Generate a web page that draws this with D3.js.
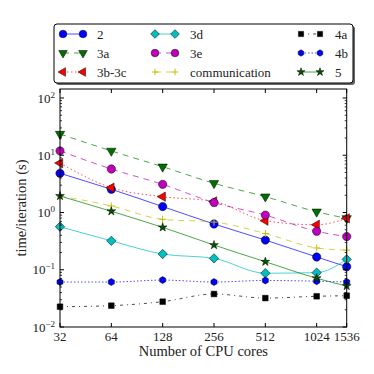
<!DOCTYPE html>
<html><head><meta charset="utf-8">
<script src="https://cdn.jsdelivr.net/npm/d3@7"></script>
<style>body{margin:0;background:#fff}svg{display:block}svg text{font-family:'Liberation Serif','DejaVu Serif','Liberation Sans',sans-serif}</style>
</head><body><svg id="c" width="374" height="374"></svg>
<script>
const cores = [32, 64, 128, 256, 512, 1024, 1536];
const xTickLabels = ["32", "64", "128", "256", "512", "1024", "1536"];
const yTickExps = [-2, -1, 0, 1, 2];
const s2 = [4.84, 2.54, 1.27, 0.63, 0.33, 0.167, 0.113];
const s3a = [23.5, 11.9, 6.3, 3.24, 1.89, 1.03, 0.79];
const s3bc = [7.3, 2.71, 1.89, 1.56, 0.72, 0.61, 0.79];
const s3d = [0.565, 0.32, 0.188, 0.158, 0.087, 0.089, 0.152];
const s3e = [11.9, 5.75, 3.1, 1.49, 0.90, 0.47, 0.38];
const sComm = [1.94, 1.30, 0.76, 0.68, 0.43, 0.24, 0.22];
const s4a = [0.0226, 0.0236, 0.0277, 0.0377, 0.032, 0.0344, 0.0352];
const s4b = [0.061, 0.061, 0.066, 0.061, 0.065, 0.063, 0.061];
const s5 = [1.94, 1.05, 0.55, 0.27, 0.138, 0.071, 0.052];
const seriesNames = ["2", "3a", "3b-3c", "3d", "3e", "communication", "4a", "4b", "5"];

const svg = d3.select("#c");
svg.append("rect").attr("width",374).attr("height",374).attr("fill","#fff");
const L = 60, R = 346.7, T = 89, B = 327;
const x = d3.scaleLog().base(2).domain([32, 1536]).range([L, R]);
const y = d3.scaleLog().domain([0.01, Math.pow(10, 2 + (98 - T) / 57.25)]).range([B, T]);

const hexPath = (r) => { let p=[]; for(let i=0;i<6;i++){const a=Math.PI/6+i*Math.PI/3; p.push([r*Math.cos(a), r*Math.sin(a)]);} return "M"+p.map(d=>d.join(",")).join("L")+"Z"; };
const plusPath = (r) => `M${-r},0L${r},0M0,${-r}L0,${r}`;

const styles = {
  "2": {vals:s2, line:"#0000ff", dash:null, mk:"circle", fill:"#0000ff"},
  "3a": {vals:s3a, line:"#008000", dash:"6,5", mk:"tdown", fill:"#007000"},
  "3b-3c": {vals:s3bc, line:"#ff0000", dash:"1.5,2.5", mk:"tleft", fill:"#ff0000"},
  "3d": {vals:s3d, line:"#00bfbf", dash:null, mk:"diamond", fill:"#00bfbf"},
  "3e": {vals:s3e, line:"#bf00bf", dash:"6,5", mk:"circle", fill:"#bf00bf"},
  "communication": {vals:sComm, line:"#bfbf00", dash:"6,5", mk:"plus", fill:"#bfbf00"},
  "4a": {vals:s4a, line:"#000000", dash:"3,4,1,4", mk:"square", fill:"#000000"},
  "4b": {vals:s4b, line:"#0000ff", dash:"1.5,2", mk:"hex", fill:"#0000ff"},
  "5": {vals:s5, line:"#008000", dash:null, mk:"star", fill:"#005500"}
};

function marker(g, kind, fill, cx, cy, sc) {
  sc = sc || 1;
  let p;
  if (kind==="circle") p = d3.symbol(d3.symbolCircle, 54*sc)();
  else if (kind==="tdown") p = d3.symbol(d3.symbolTriangle, 38*sc)();
  else if (kind==="tleft") p = d3.symbol(d3.symbolTriangle, 38*sc)();
  else if (kind==="diamond") p = d3.symbol(d3.symbolSquare, 44*sc)();
  else if (kind==="square") p = d3.symbol(d3.symbolSquare, 32*sc)();
  else if (kind==="star") p = d3.symbol(d3.symbolStar, 24*sc)();
  else if (kind==="hex") p = hexPath(3.5*Math.sqrt(sc));
  else if (kind==="plus") p = plusPath(3.5*Math.sqrt(sc));
  const rot = kind==="tdown"?180:kind==="tleft"?-90:kind==="diamond"?45:0;
  const e = g.append("path").attr("d", p)
    .attr("transform", `translate(${cx},${cy}) rotate(${rot})`);
  if (kind==="plus") e.attr("fill","none").attr("stroke",fill).attr("stroke-width",1);
  else e.attr("fill", fill).attr("stroke","#000").attr("stroke-width",0.5);
}

svg.append("clipPath").attr("id","clip").append("rect").attr("x",L).attr("y",T).attr("width",R-L).attr("height",B-T);
const plot = svg.append("g").attr("clip-path","url(#clip)");
const line = d3.line().x((d,i)=>x(cores[i])).y(d=>y(d)).curve(d3.curveMonotoneX);
seriesNames.forEach(n => {
  const s = styles[n];
  plot.append("path").attr("d", line(s.vals)).attr("fill","none").attr("stroke", s.line)
    .attr("stroke-opacity",0.7).attr("stroke-width",1).attr("stroke-dasharray", s.dash);
});
const mg = svg.append("g");
seriesNames.forEach(n => {
  const s = styles[n];
  s.vals.forEach((v,i) => marker(mg, s.mk, s.fill, x(cores[i]), y(v)));
});

svg.append("rect").attr("x",L).attr("y",T).attr("width",R-L).attr("height",B-T).attr("fill","none").attr("stroke","#000").attr("stroke-width",1);

const ax = svg.append("g");
cores.forEach((c,i) => {
  const px = x(c);
  ax.append("line").attr("x1",px).attr("x2",px).attr("y1",B).attr("y2",B-4).attr("stroke","#000");
  ax.append("line").attr("x1",px).attr("x2",px).attr("y1",T).attr("y2",T+4).attr("stroke","#000");
  ax.append("text").attr("x",px).attr("y",341).attr("text-anchor","middle").attr("font-size",13).attr("fill","#222").text(xTickLabels[i]);
});
yTickExps.forEach(e => {
  const py = y(Math.pow(10,e));
  ax.append("line").attr("x1",L).attr("x2",L+4).attr("y1",py).attr("y2",py).attr("stroke","#000");
  ax.append("line").attr("x1",R).attr("x2",R-4).attr("y1",py).attr("y2",py).attr("stroke","#000");
  const t = ax.append("text").attr("x",55).attr("y",py+4.5).attr("text-anchor","end").attr("font-size",13).attr("fill","#222");
  t.append("tspan").text("10");
  t.append("tspan").attr("dy",-5).attr("font-size",9).text(e<0?"\u2212"+(-e):String(e));
  if (e < 2) for (let k=2;k<=9;k++) {
    const pm = y(k*Math.pow(10,e));
    ax.append("line").attr("x1",L).attr("x2",L+2).attr("y1",pm).attr("y2",pm).attr("stroke","#000").attr("stroke-width",0.8);
    ax.append("line").attr("x1",R).attr("x2",R-2).attr("y1",pm).attr("y2",pm).attr("stroke","#000").attr("stroke-width",0.8);
  }
});
svg.append("text").attr("x",(L+R)/2).attr("y",356).attr("text-anchor","middle").attr("font-size",14.5).attr("fill","#222").text("Number of CPU cores");
svg.append("text").attr("transform",`translate(26,${(T+B)/2}) rotate(-90)`).attr("text-anchor","middle").attr("font-size",14.5).attr("fill","#222").text("time/iteration (s)");

const lg = svg.append("g");
lg.append("rect").attr("x",56).attr("y",26).attr("width",299).attr("height",59).attr("rx",3).attr("fill","#666");
lg.append("rect").attr("x",54).attr("y",24).attr("width",299).attr("height",59).attr("rx",3).attr("fill","#fff").attr("stroke","#000").attr("stroke-width",1);
const cols = [[63,83,97],[155,175,190],[301,320,335]];
const rows = [34, 53, 72];
seriesNames.forEach((n,i) => {
  const c = cols[Math.floor(i/3)], r = rows[i%3], s = styles[n];
  lg.append("line").attr("x1",c[0]).attr("x2",c[1]).attr("y1",r).attr("y2",r).attr("stroke",s.line)
    .attr("stroke-opacity",0.7).attr("stroke-width",1).attr("stroke-dasharray",s.dash);
  marker(lg, s.mk, s.fill, c[0], r, 0.85);
  marker(lg, s.mk, s.fill, c[1], r, 0.85);
  lg.append("text").attr("x",c[2]).attr("y",r+4.5).attr("font-size",13).attr("fill","#222").text(n);
});
</script></body></html>
